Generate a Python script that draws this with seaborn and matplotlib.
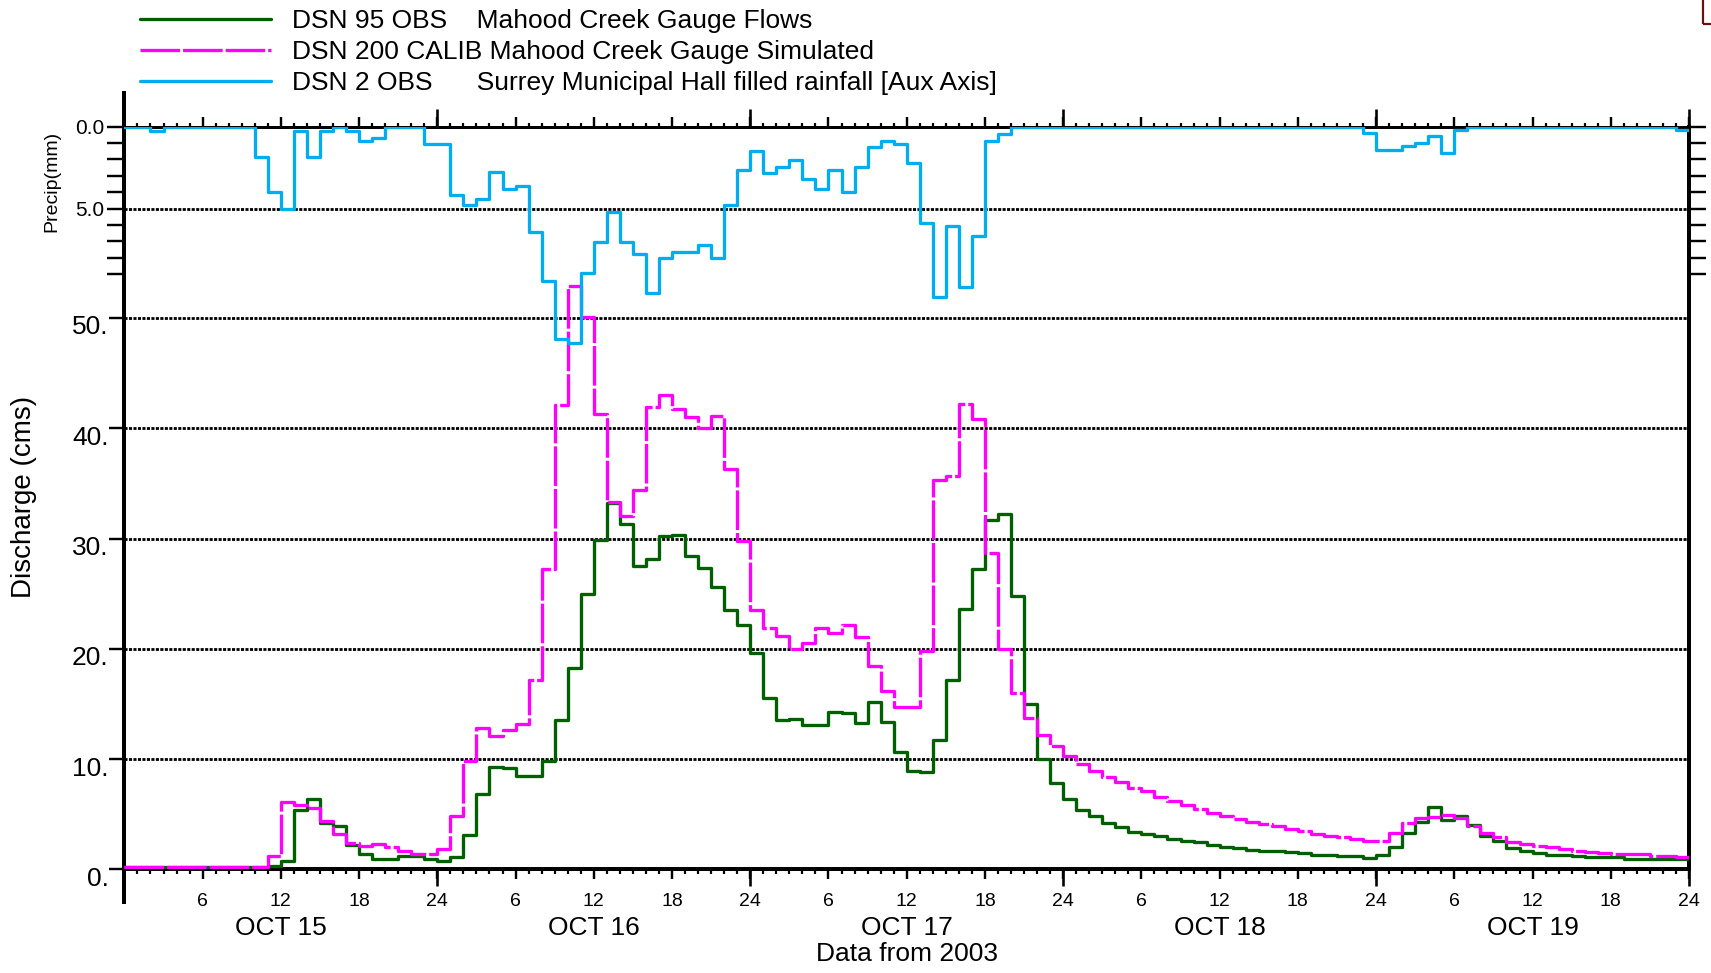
import numpy as np
import pandas as pd
import matplotlib
matplotlib.use('Agg')
import matplotlib.pyplot as plt
import matplotlib.ticker as mticker
import matplotlib.transforms as mtransforms
from matplotlib.patches import Rectangle
import seaborn as sns

# ---------------- data (hourly values, Oct 15 00:00 -> Oct 20 00:00, 2003) -------------
obs_flow = [0.25] * 11 + [
    0.3, 0.8, 5.4, 6.4, 4.2, 3.9, 2.2, 1.4, 0.95, 0.95,
    1.25, 1.25, 0.95, 0.8, 1.1, 3.1, 6.8, 9.3, 9.2, 8.5,
    8.5, 9.8, 13.5, 18.3, 25.0, 29.9, 33.2, 31.3, 27.5, 28.1,
    30.2, 30.3, 28.4, 27.35, 25.6, 23.5, 22.2, 19.6, 15.5, 13.5,
    13.6, 13.1, 13.1, 14.3, 14.2, 13.3, 15.2, 13.4, 10.6, 8.9,
    8.8, 11.7, 17.2, 23.6, 27.2, 31.7, 32.2, 24.8, 15.0, 10.0,
    7.8, 6.4, 5.4, 4.8, 4.25, 3.8, 3.4, 3.2, 3.0, 2.75,
    2.6, 2.45, 2.2, 2.05, 1.9, 1.8, 1.7, 1.7, 1.6, 1.5,
    1.35, 1.35, 1.2, 1.2, 1.05, 1.3, 2.0, 3.3, 4.3, 5.7,
    4.5, 4.8, 4.05, 3.05, 2.6, 1.9, 1.65, 1.45, 1.35, 1.35,
    1.2, 1.08, 1.08, 1.08] + [0.92] * 5

sim_flow = [0.2] * 11 + [
    1.2, 6.1, 5.8, 5.6, 4.4, 3.2, 2.4, 2.1, 2.3, 2.0,
    1.67, 1.37, 1.37, 1.85, 4.8, 9.8, 12.85, 12.1, 12.6, 13.2,
    17.15, 27.2, 42.1, 52.9, 50.1, 41.3, 33.3, 32.0, 34.4, 41.9,
    43.0, 41.7, 41.0, 40.0, 41.1, 36.3, 29.75, 23.5, 21.9, 21.2,
    20.0, 20.5, 21.9, 21.4, 22.2, 21.1, 18.4, 16.2, 14.7, 14.7,
    19.8, 35.3, 35.7, 42.2, 40.8, 28.7, 20.0, 16.0, 13.7, 12.2,
    11.2, 10.3, 9.55, 8.9, 8.4, 7.9, 7.4, 7.1, 6.6, 6.2,
    5.8, 5.5, 5.1, 4.8, 4.55, 4.3, 4.1, 3.95, 3.66, 3.45,
    3.2, 3.05, 2.9, 2.75, 2.55, 2.55, 3.3, 4.2, 4.7, 4.75,
    4.9, 4.7, 3.9, 3.3, 2.9, 2.5, 2.3, 2.1, 2.0, 1.85,
    1.7, 1.57, 1.45, 1.38, 1.38, 1.38, 1.23, 1.23, 1.08]

rain = [0, 0, 0.3] + [0] * 7 + [
    1.87, 3.98, 5.0, 0.3, 1.87, 0.3, 0, 0.3, 0.86, 0.7,
    0, 0, 0, 1.06, 1.06, 4.2, 4.8, 4.4, 2.8, 3.8,
    3.6, 6.45, 9.4, 12.95, 13.2, 8.96, 7.05, 5.2, 7.05, 7.8,
    10.16, 8.0, 7.65, 7.65, 7.23, 8.0, 4.8, 2.67, 1.5, 2.83,
    2.47, 2.07, 3.23, 3.8, 2.63, 3.98, 2.47, 1.27, 0.9, 1.06,
    2.23, 5.88, 10.4, 6.08, 9.8, 6.65, 0.86, 0.46] + [0] * 27 + [
    0.4, 1.42, 1.42, 1.21, 1.0, 0.6, 1.62, 0.24] + [0] * 16 + [0.2]

series_labels = [
    "DSN 95 OBS    Mahood Creek Gauge Flows",
    "DSN 200 CALIB Mahood Creek Gauge Simulated",
    "DSN 2 OBS      Surrey Municipal Hall filled rainfall [Aux Axis]",
]
hour_ticks = list(range(6, 121, 6))
hour_tick_labels = [str((h - 1) % 24 + 1) for h in hour_ticks]
day_bounds = [24, 48, 72, 96, 120]
day_centers = [12, 36, 60, 84, 108]
day_labels = ["OCT 15", "OCT 16", "OCT 17", "OCT 18", "OCT 19"]
q_ticks = [0, 10, 20, 30, 40, 50]
q_tick_labels = ["0.", "10.", "20.", "30.", "40.", "50."]
p_ticks = [0, 5]
p_tick_labels = ["0.0", "5.0"]
p_minor = [1, 2, 3, 4, 6, 7, 8, 9]

# ---------------- styling ----------------
sns.set_theme(style="white")
plt.rcParams['font.family'] = ['Liberation Sans', 'DejaVu Sans']

W, H = 1711, 973
PT = 0.72  # points per pixel at dpi 100

fig = plt.figure(figsize=(W / 100, H / 100), dpi=100)
x0, x1 = 124.4, 1689.0
ytop, ybot = 126.5, 869.4
ax = fig.add_axes([x0 / W, 1 - ybot / H, (x1 - x0) / W, (ybot - ytop) / H])
ax.set_facecolor('white')

q_top = (ybot - ytop) / 11.03
p_bot = (ybot - ytop) / 16.4


def step_frame(vals):
    v = np.asarray(vals, dtype=float)
    return pd.DataFrame({"hour": np.arange(len(v) + 1), "value": np.append(v, v[-1])})


GREEN = "#006000"
MAGENTA = "#FF00FF"
CYAN = "#00AEEF"

sns.lineplot(data=step_frame(obs_flow), x="hour", y="value", drawstyle="steps-post",
             color=GREEN, lw=3.3 * PT, ax=ax, legend=False, zorder=3)
sns.lineplot(data=step_frame(sim_flow), x="hour", y="value", drawstyle="steps-post",
             color=MAGENTA, lw=3.3 * PT, ax=ax, legend=False, zorder=4)
l_obs, l_sim = ax.get_lines()[0], ax.get_lines()[1]
l_sim.set_linestyle((0, (12.0, 0.9)))

ax2 = ax.twinx()
sns.lineplot(data=step_frame(rain), x="hour", y="value", drawstyle="steps-post",
             color=CYAN, lw=3.3 * PT, ax=ax2, legend=False, zorder=5)
l_rain = ax2.get_lines()[0]

ax.set_xlim(0, 120)
ax.set_ylim(0, q_top)
ax2.set_ylim(p_bot, 0)
ax.set_xlabel("")
ax.set_ylabel("")
ax2.set_ylabel("")

# grid lines
grid_kw = dict(color="black", lw=2.0 * PT * 1.4, linestyle=(0, (1.1, 0.5)))
ax.yaxis.set_major_locator(mticker.FixedLocator(q_ticks))
ax.yaxis.set_major_formatter(mticker.FixedFormatter(q_tick_labels))
ax.yaxis.grid(True, **grid_kw)
ax.xaxis.grid(False)
ax.set_axisbelow(True)

ax2.yaxis.set_major_locator(mticker.FixedLocator(p_ticks))
ax2.yaxis.set_major_formatter(mticker.FixedFormatter(p_tick_labels))
ax2.yaxis.set_minor_locator(mticker.FixedLocator(p_minor))
ax2.yaxis.grid(True, which="major", **grid_kw)
ax2.xaxis.grid(False)

# x ticks
ax.xaxis.set_major_locator(mticker.FixedLocator(hour_ticks))
ax.xaxis.set_major_formatter(mticker.FixedFormatter(hour_tick_labels))
ax.xaxis.set_minor_locator(mticker.MultipleLocator(1))
ax.tick_params(axis="x", which="major", bottom=True, top=True, direction="out",
               length=10 * PT, width=2.4 * PT, color="black", labelsize=14,
               pad=9.5, labelcolor="black")
ax.tick_params(axis="x", which="minor", bottom=True, top=True, direction="out",
               length=4.5 * PT, width=2.2 * PT, color="black")

# y ticks (discharge)
ax.tick_params(axis="y", which="major", left=True, right=False, direction="out",
               length=15 * PT, width=2.4 * PT, color="black", labelsize=19, pad=0.5,
               labelcolor="black")

# y ticks (precip, aux axis)
ax2.yaxis.set_ticks_position("both")
ax2.tick_params(axis="y", which="both", left=True, right=True, direction="out",
                length=17 * PT, width=2.4 * PT, color="black",
                labelleft=True, labelright=False, labelsize=15, pad=2.5,
                labelcolor="black")

# day-boundary long ticks
for loc in ("bottom", "top"):
    sec = ax.secondary_xaxis(loc)
    sec.set_xticks(day_bounds)
    sec.tick_params(axis="x", length=17 * PT, width=2.6 * PT, direction="out",
                    labelbottom=False, labeltop=False, color="black")
    for s in sec.spines.values():
        s.set_visible(False)

# spines
for s in ax2.spines.values():
    s.set_visible(False)
ax2.patch.set_visible(False)
ax.spines["left"].set_linewidth(4 * PT)
ax.spines["right"].set_linewidth(4 * PT)
ax.spines["bottom"].set_linewidth(4 * PT)
ax.spines["top"].set_linewidth(3 * PT)
for s in ax.spines.values():
    s.set_color("black")
    s.set_visible(True)
ext = 33 / 11.03
ax.spines["left"].set_bounds(-ext, q_top + ext)

# day labels and axis titles
day_tr = mtransforms.blended_transform_factory(ax.transData, fig.transFigure)
for c, lab in zip(day_centers, day_labels):
    ax.text(c, 1 - 928 / H, lab, transform=day_tr, ha="center", va="center",
            fontsize=19, color="black")
fig.text((x0 + x1) / 2 / W, 1 - 954 / H, "Data from 2003", ha="center", va="center",
         fontsize=19, color="black")
fig.text(24 / W, 1 - 497 / H, "Discharge (cms)", rotation=90, ha="center", va="center",
         fontsize=20, color="black")
fig.text(52 / W, 1 - 181 / H, "Precip(mm)", rotation=90, ha="center", va="center",
         fontsize=14, color="black")

# legend
leg = ax.legend([l_obs, l_sim, l_rain], series_labels, loc="upper left",
                bbox_to_anchor=(140 / W, 1 - 9 / H), bbox_transform=fig.transFigure,
                frameon=False, fontsize=19, handlelength=4.96, handletextpad=0.8,
                labelspacing=0.27, borderpad=0, borderaxespad=0)
for t in leg.get_texts():
    t.set_color("black")

# corner mark
fig.patches.append(Rectangle((1703 / W, 1 - 24 / H), 0.02, 0.05, transform=fig.transFigure,
                             fill=False, edgecolor="#6a1010", lw=2.2 * PT, clip_on=False))

# shift discharge labels slightly down like the reference
off = mtransforms.ScaledTranslation(0, -7 / 100, fig.dpi_scale_trans)
for tk in ax.yaxis.get_major_ticks():
    tk.label1.set_transform(tk.label1.get_transform() + off)

fig.savefig("out.png", dpi=100)
